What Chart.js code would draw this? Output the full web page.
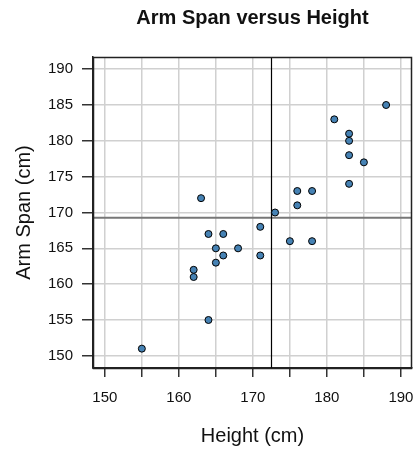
<!DOCTYPE html>
<html>
<head>
<meta charset="utf-8">
<script src="https://cdn.jsdelivr.net/npm/chart.js@4.4.0/dist/chart.umd.min.js"></script>
<style>
  html, body { margin: 0; padding: 0; background: #fff; }
  #wrap { width: 417px; height: 450px; }
</style>
</head>
<body>
<div id="wrap"><canvas id="chart" width="417" height="450"></canvas></div>
<script>
// heights and arm spans (cm), one entry per person
const heights  = [155, 162, 162, 163, 164, 164, 165, 165, 166, 166, 168, 171, 171, 173, 175, 176, 176, 178, 178, 181, 183, 183, 183, 183, 185, 188];
const armSpans = [151, 162, 161, 172, 167, 155, 165, 163, 167, 164, 165, 168, 164, 170, 166, 173, 171, 173, 166, 183, 181, 180, 178, 174, 177, 185];

const xRange = [148.4, 191.5];
const yRange = [148.3, 191.7];
const chartTitle = 'Arm Span versus Height';

const mean = arr => arr.reduce((a, b) => a + b, 0) / arr.length;
const meanHeight = mean(heights);
const meanArm = mean(armSpans);

const points = heights.map((h, i) => ({ x: h, y: armSpans[i] }));

// mean lines, box round the plot area, title centred over the plot
const refLines = {
    id: 'refLines',
    beforeDatasetsDraw(chart) {
        const { ctx, chartArea: a, scales: { x, y } } = chart;
        ctx.save();
        // horizontal mean (grey)
        const yp = y.getPixelForValue(meanArm);
        ctx.strokeStyle = '#777777';
        ctx.lineWidth = 2;
        ctx.beginPath();
        ctx.moveTo(a.left, yp);
        ctx.lineTo(a.right, yp);
        ctx.stroke();
        // vertical mean (black)
        const xp = Math.round(x.getPixelForValue(meanHeight)) + 0.5;
        ctx.strokeStyle = '#000000';
        ctx.lineWidth = 1.2;
        ctx.beginPath();
        ctx.moveTo(xp, a.top);
        ctx.lineTo(xp, a.bottom);
        ctx.stroke();
        ctx.restore();
    },
    afterDraw(chart) {
        const { ctx, chartArea: a } = chart;
        ctx.save();
        ctx.strokeStyle = '#222222';
        ctx.lineWidth = 1.5;
        ctx.strokeRect(Math.round(a.left) + 0.5, Math.round(a.top) + 0.5,
                       Math.round(a.right - a.left) - 1, Math.round(a.bottom - a.top));
        ctx.fillStyle = '#111111';
        ctx.font = 'bold 20px "Liberation Sans", Arial, sans-serif';
        ctx.textAlign = 'center';
        ctx.textBaseline = 'middle';
        ctx.fillText(chartTitle, (a.left + a.right) / 2, 18);
        ctx.restore();
    }
};

Chart.defaults.font.family = '"Liberation Sans", Arial, sans-serif';
Chart.defaults.color = '#111111';

new Chart(document.getElementById('chart'), {
    type: 'scatter',
    data: {
        datasets: [{
            label: 'Arm span',
            data: points,
            backgroundColor: '#4682B4',
            borderColor: '#000000',
            borderWidth: 1,
            pointRadius: 3.5,
            pointHoverRadius: 3.5
        }]
    },
    options: {
        responsive: false,
        animation: false,
        layout: { padding: { left: 0, right: 5, top: 57, bottom: 0 } },
        plugins: {
            legend: { display: false },
            tooltip: { enabled: false },
            title: { display: false }
        },
        scales: {
            x: {
                type: 'linear',
                min: xRange[0],
                max: xRange[1],
                afterFit(scale) {
                    scale.height = 82;
                    scale.paddingLeft = 0;
                    scale.paddingRight = 0;
                },
                border: { display: true, color: '#222222', width: 1.5 },
                grid: {
                    color: '#d0d0d0',
                    lineWidth: 1.5,
                    tickLength: 9,
                    tickColor: '#333333',
                    tickWidth: 1.5
                },
                ticks: {
                    stepSize: 5,
                    includeBounds: false,
                    padding: 12,
                    font: { size: 15 },
                    maxRotation: 0,
                    autoSkip: false,
                    callback: v => (v % 10 === 0 ? String(v) : '')
                },
                title: {
                    display: true,
                    text: 'Height (cm)',
                    font: { size: 20 },
                    padding: { top: 0, bottom: 2 }
                }
            },
            y: {
                type: 'linear',
                min: yRange[0],
                max: yRange[1],
                afterFit(scale) {
                    scale.width = 93;
                    scale.paddingTop = 0;
                    scale.paddingBottom = 0;
                },
                border: { display: true, color: '#222222', width: 1.5 },
                grid: {
                    color: '#d0d0d0',
                    lineWidth: 1.5,
                    tickLength: 11,
                    tickColor: '#333333',
                    tickWidth: 1.5
                },
                ticks: {
                    stepSize: 5,
                    includeBounds: false,
                    padding: 9,
                    font: { size: 15 },
                    autoSkip: false
                },
                title: {
                    display: true,
                    text: 'Arm Span (cm)',
                    font: { size: 20 },
                    padding: { top: 12, bottom: 0 }
                }
            }
        }
    },
    plugins: [refLines]
});
</script>
</body>
</html>
